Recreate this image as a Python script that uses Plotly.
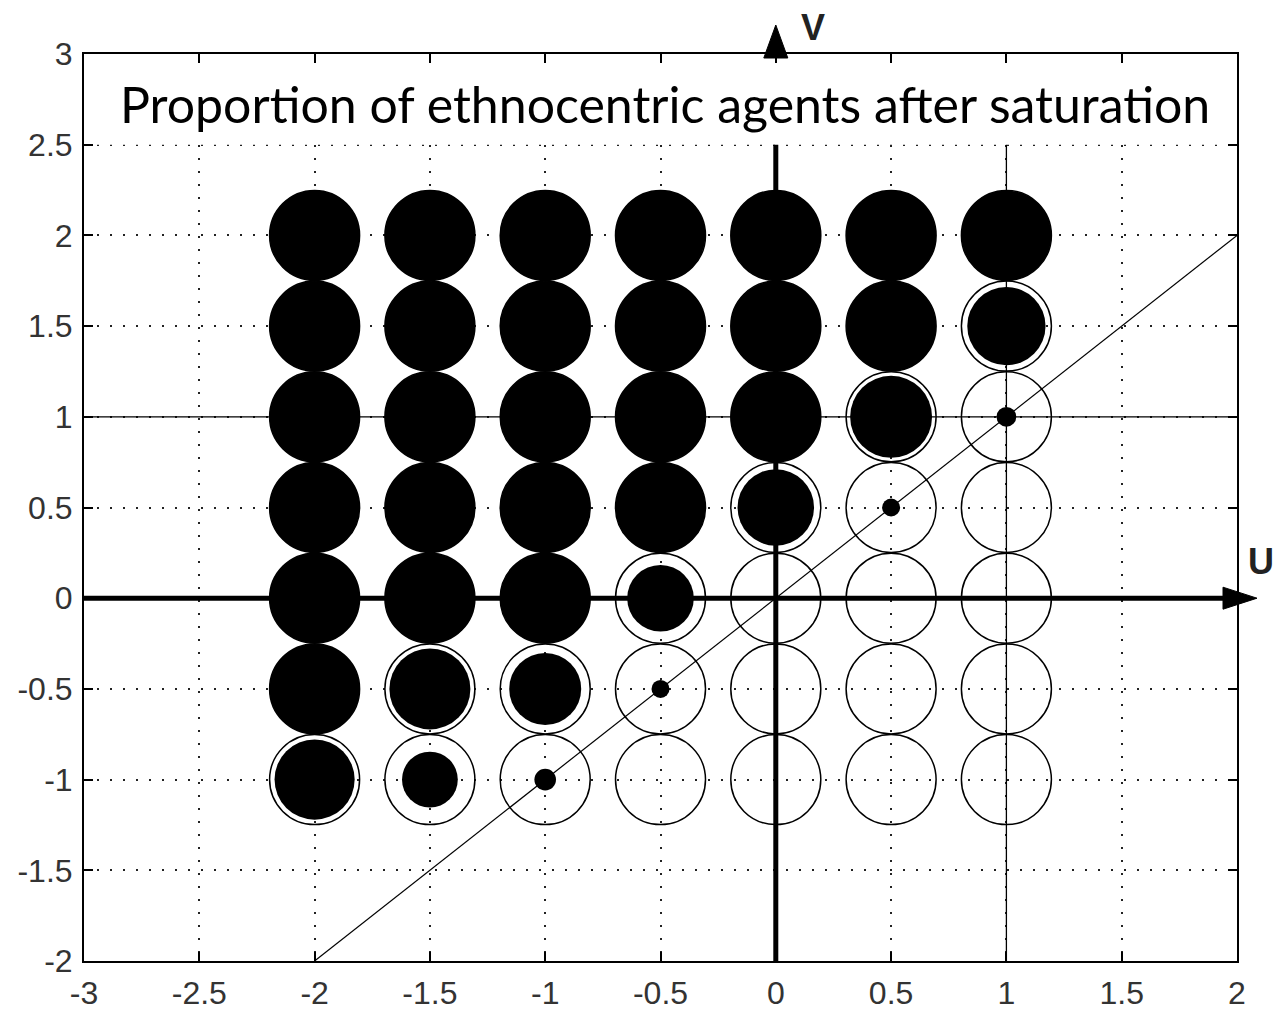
import plotly.graph_objects as go

# ---------------- data ----------------
u_vals = [-2, -1.5, -1, -0.5, 0, 0.5, 1]
v_vals = [2, 1.5, 1, 0.5, 0, -0.5, -1]
# diameter of the filled disc relative to the outer circle (rows follow v_vals)
fill_ratio = [
    [1.00, 1.00, 1.00, 1.00, 1.00, 1.00, 1.00],
    [1.00, 1.00, 1.00, 1.00, 1.00, 1.00, 0.87],
    [1.00, 1.00, 1.00, 1.00, 1.00, 0.91, 0.22],
    [1.00, 1.00, 1.00, 1.00, 0.85, 0.20, 0.00],
    [1.00, 1.00, 1.00, 0.74, 0.00, 0.00, 0.00],
    [1.00, 0.90, 0.80, 0.20, 0.00, 0.00, 0.00],
    [0.89, 0.62, 0.24, 0.00, 0.00, 0.00, 0.00],
]
x_ticks = [-3, -2.5, -2, -1.5, -1, -0.5, 0, 0.5, 1, 1.5, 2]
x_tick_labels = ["-3", "-2.5", "-2", "-1.5", "-1", "-0.5", "0", "0.5", "1", "1.5", "2"]
y_ticks = [-2, -1.5, -1, -0.5, 0, 0.5, 1, 1.5, 2, 2.5, 3]
y_tick_labels = ["-2", "-1.5", "-1", "-0.5", "0", "0.5", "1", "1.5", "2", "2.5", "3"]
diag_u = [-2, 2]
diag_v = [-2, 2]
title_text = "Proportion of ethnocentric agents after saturation"

# ---------------- layout constants ----------------
W, H = 1276, 1012
ML, MR, MT, MB = 84, 39, 54, 51
PW, PH = W - ML - MR, H - MT - MB
XR = [-3, 2]
YR = [-2, 3]
D = 90  # outer circle diameter, px

def px2paper_x(px):
    return (px - ML) / PW

def px2paper_y(py):
    return (H - MB - py) / PH

def data2px_x(x):
    return ML + (x - XR[0]) / (XR[1] - XR[0]) * PW

def data2px_y(y):
    return H - MB - (y - YR[0]) / (YR[1] - YR[0]) * PH

fig = go.Figure()

# thin reference lines
fig.add_trace(go.Scatter(x=diag_u, y=diag_v, mode="lines",
                         line=dict(color="black", width=1.2), hoverinfo="skip"))
fig.add_trace(go.Scatter(x=[XR[0], XR[1]], y=[1, 1], mode="lines",
                         line=dict(color="black", width=1.3), hoverinfo="skip"))
fig.add_trace(go.Scatter(x=[1, 1], y=[YR[0], 2.5], mode="lines",
                         line=dict(color="black", width=1.3), hoverinfo="skip"))

# filled discs
fx, fy, fs = [], [], []
for i, v in enumerate(v_vals):
    for j, u in enumerate(u_vals):
        r = fill_ratio[i][j]
        if r > 0:
            fx.append(u); fy.append(v); fs.append(D * r)
fig.add_trace(go.Scatter(x=fx, y=fy, mode="markers",
                         marker=dict(size=fs, color="black", opacity=1, line=dict(width=0)),
                         hoverinfo="skip"))

# outer open circles
ox = [u for v in v_vals for u in u_vals]
oy = [v for v in v_vals for u in u_vals]
fig.add_trace(go.Scatter(x=ox, y=oy, mode="markers",
                         marker=dict(size=D, symbol="circle-open", color="black", opacity=1,
                                     line=dict(width=1.5)),
                         hoverinfo="skip"))

# thick axes lines
fig.add_trace(go.Scatter(x=[XR[0], XR[1]], y=[0, 0], mode="lines",
                         line=dict(color="black", width=5), hoverinfo="skip"))
fig.add_trace(go.Scatter(x=[0, 0], y=[YR[0], 2.5], mode="lines",
                         line=dict(color="black", width=5), hoverinfo="skip"))

shapes = []
# white title band hiding the grid above v = 2.5
shapes.append(dict(type="rect", xref="x", yref="y", x0=XR[0], x1=XR[1], y0=2.5, y1=YR[1],
                   fillcolor="white", line=dict(width=0), layer="between"))
# arrow head on U axis
y0p = data2px_y(0)
tip = XR[1]
bx = data2px_x(tip) - 14
tx = data2px_x(tip) + 20
shapes.append(dict(type="path", xref="paper", yref="paper",
                   path="M {a},{b} L {c},{d} L {a},{e} Z".format(
                       a=px2paper_x(bx), b=px2paper_y(y0p - 11),
                       c=px2paper_x(tx), d=px2paper_y(y0p),
                       e=px2paper_y(y0p + 11)),
                   fillcolor="black", line=dict(color="black", width=1)))
# arrow head on V axis
x0p = data2px_x(0)
by = data2px_y(YR[1]) + 4
ty = data2px_y(YR[1]) - 29
shapes.append(dict(type="path", xref="paper", yref="paper",
                   path="M {a},{b} L {c},{d} L {e},{b} Z".format(
                       a=px2paper_x(x0p - 12), b=px2paper_y(by),
                       c=px2paper_x(x0p), d=px2paper_y(ty),
                       e=px2paper_x(x0p + 12)),
                   fillcolor="black", line=dict(color="black", width=1)))

annotations = [
    dict(text=title_text, xref="paper", yref="paper",
         x=px2paper_x(665), y=px2paper_y(104), xanchor="center", yanchor="middle",
         showarrow=False, font=dict(family="Lato, Open Sans, sans-serif", size=50, color="black")),
    dict(text="<b>V</b>", xref="paper", yref="paper",
         x=px2paper_x(813), y=px2paper_y(28), xanchor="center", yanchor="middle",
         showarrow=False, font=dict(family="Liberation Sans, Arial, sans-serif", size=36, color="#222")),
    dict(text="<b>U</b>", xref="paper", yref="paper",
         x=px2paper_x(1261), y=px2paper_y(561), xanchor="center", yanchor="middle",
         showarrow=False, font=dict(family="Liberation Sans, Arial, sans-serif", size=36, color="#222")),
]

tick_font = dict(family="Liberation Sans Narrow, Liberation Sans, Arial, sans-serif", size=32, color="#333")
axis_common = dict(showline=True, linecolor="black", linewidth=2, mirror="ticks",
                   ticks="inside", ticklen=9, tickwidth=2, tickcolor="black",
                   showgrid=True, gridcolor="#222", gridwidth=1.5, griddash="2px,11px",
                   zeroline=False, tickfont=tick_font, fixedrange=True, automargin=False)

fig.update_layout(
    width=W, height=H, autosize=False,
    margin=dict(l=ML, r=MR, t=MT, b=MB, pad=0),
    paper_bgcolor="white", plot_bgcolor="white",
    showlegend=False,
    xaxis=dict(range=XR, tickvals=x_ticks, ticktext=x_tick_labels,
               ticklabelstandoff=3, **axis_common),
    yaxis=dict(range=YR, tickvals=y_ticks, ticktext=y_tick_labels,
               ticklabelstandoff=3, **axis_common),
    shapes=shapes, annotations=annotations,
)

fig.write_html("out.html", config={"displayModeBar": False},
               post_script="document.body.style.margin='0';")
